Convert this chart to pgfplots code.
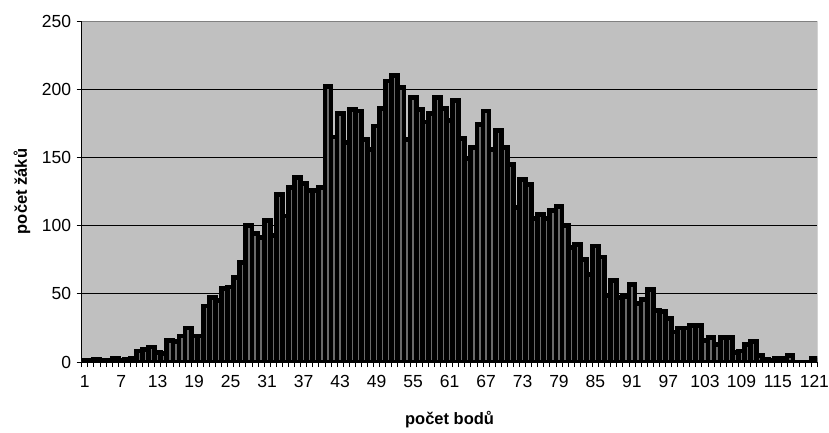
\documentclass[border=0pt]{standalone}
\usepackage{fontspec}
\setmainfont{Liberation Sans}
\usepackage{pgfplots}
\usepackage{pgfplotstable}
\pgfplotsset{compat=1.18}
\definecolor{bgc}{HTML}{C0C0C0}
\definecolor{barfill}{HTML}{6A6A6A}
\definecolor{bordc}{HTML}{808080}
\pgfplotstableread{
x y
1 1
2 1
3 2
4 1
5 1
6 3
7 1
8 2
9 3
10 8
11 9
12 11
13 7
14 6
15 16
16 15
17 19
18 25
19 19
20 19
21 41
22 47
23 45
24 54
25 55
26 62
27 73
28 100
29 94
30 91
31 104
32 93
33 123
34 107
35 128
36 135
37 131
38 126
39 126
40 128
41 202
42 165
43 182
44 161
45 185
46 184
47 163
48 156
49 173
50 186
51 206
52 210
53 201
54 163
55 194
56 185
57 176
58 182
59 194
60 186
61 177
62 192
63 164
64 149
65 157
66 174
67 184
68 156
69 170
70 157
71 145
72 113
73 134
74 130
75 105
76 108
77 105
78 111
79 114
80 100
81 84
82 86
83 75
84 64
85 85
86 77
87 49
88 60
89 47
90 48
91 57
92 43
93 46
94 53
95 38
96 37
97 32
98 22
99 25
100 25
101 27
102 27
103 16
104 18
105 13
106 18
107 18
108 7
109 8
110 13
111 15
112 5
113 2
114 1
115 3
116 3
117 5
118 0
119 0
120 0
121 3
}\datatable
\begin{document}
\begin{tikzpicture}
\begin{axis}[
  scale only axis, width=735.7pt, height=341pt,
  xmin=0.5, xmax=121.5, ymin=0, ymax=250,
  axis x line*=bottom, axis y line*=left,
  axis line style={black, line width=1pt},
  axis background/.style={fill=bgc},
  xtick={1,7,...,121}, minor xtick={0.5,1.5,...,121.5},
  major x tick style={draw=none},
  minor x tick style={black, line width=0.8pt},
  minor tick length=5pt, major tick length=5pt,
  tick align=outside,
  ytick={0,50,...,250},
  y tick style={black, line width=0.8pt},
  extra y ticks={50,100,150,200}, extra y tick labels={},
  extra y tick style={grid=major, major tick length=0pt},
  grid style={black, line width=0.9pt},
  /pgf/number format/assume math mode=true,
  ticklabel style={font=\fontsize{17.5}{19}\selectfont},
  xticklabel style={yshift=-5pt},
  yticklabel style={xshift=-2pt},
  xlabel={počet bodů}, ylabel={počet žáků},
  label style={font=\bfseries\fontsize{16.5}{18}\selectfont},
  xlabel style={at={(axis description cs:0.5,-0.17)}, anchor=center},
  ylabel style={at={(axis description cs:-0.0811,0.5)}, anchor=center},
]
\addplot[ybar, bar width=1, fill=barfill, draw=black, line width=4.8pt] table[x=x,y=y] {\datatable};
\draw[bordc, line width=1pt] (rel axis cs:0,1) -- (rel axis cs:1,1) -- (rel axis cs:1,0);
\end{axis}
\pgfresetboundingbox
\path[use as bounding box] (-81.7pt,-70pt) rectangle (747.3pt,362pt);
\end{tikzpicture}
\end{document}
